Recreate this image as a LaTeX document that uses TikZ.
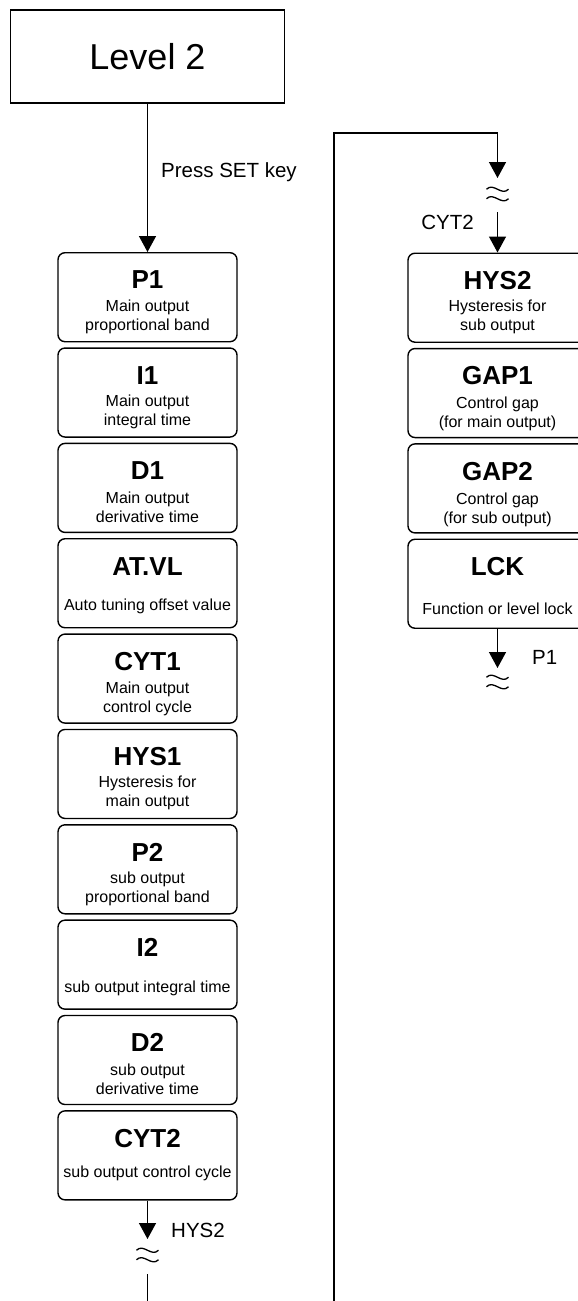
\documentclass[tikz,border=0pt]{standalone}
\usepackage{fontspec}
\setmainfont{Liberation Sans}
\usetikzlibrary{arrows.meta}
\newcommand\pbox[6]{%
  \node[box] (#1) at (#2,#3) {};
  \node[ttl] (#1t) at (#2,#3+28) {#4};
  \node[sub] (#1s) at (#2,#3+#5) {#6};}
\begin{document}
\begin{tikzpicture}[x=1pt,y=-1pt,
  box/.style={draw, line width=1.4pt, rounded corners=7pt, minimum width=179pt, minimum height=89pt, inner sep=0pt, anchor=north},
  ttl/.style={font=\fontsize{26}{30}\selectfont\bfseries, inner sep=0pt},
  sub/.style={font=\fontsize{16}{19}\selectfont, align=center, inner sep=0pt},
  lbl/.style={font=\fontsize{20.5}{24}\selectfont, inner sep=0pt},
  conn/.style={line width=1.4pt},
  arr/.style={conn, -{Triangle[width=17pt,length=16pt]}},
  brk/.pic={\draw[line width=1.3pt] (-11,-4.75) .. controls (-4,-12) and (4,2.5) .. (11,-4.75);
            \draw[line width=1.3pt] (-11,4.75) .. controls (-4,-2.5) and (4,12) .. (11,4.75);}
]
\fill[white] (0,0) rectangle (578,1301);
\useasboundingbox (0,0) rectangle (578,1301);

\node[draw, line width=1.4pt, minimum width=274pt, minimum height=93pt, inner sep=0pt,
      font=\fontsize{36}{40}\selectfont] (lvl) at (147.5,56.5) {Level 2};

% left column
\pbox{p1}{147.5}{252}{P1}{64.5}{Main output\\proportional band}
\pbox{i1}{147.5}{347.35}{I1}{64.5}{Main output\\integral time}
\pbox{d1}{147.5}{442.7}{D1}{64.5}{Main output\\derivative time}
\pbox{atvl}{147.5}{538.05}{AT.VL}{68}{Auto tuning offset value}
\pbox{cyt1}{147.5}{633.4}{CYT1}{65}{Main output\\control cycle}
\pbox{hys1}{147.5}{728.75}{HYS1}{64.5}{Hysteresis for\\main output}
\pbox{p2}{147.5}{824.1}{P2}{64.5}{sub output\\proportional band}
\pbox{i2}{147.5}{919.45}{I2}{69}{sub output integral time}
\pbox{d2}{147.5}{1014.8}{D2}{64}{sub output\\derivative time}
\pbox{cyt2}{147.5}{1110.15}{CYT2}{63.5}{sub output control cycle}

% right column
\pbox{hys2}{497.5}{252.5}{HYS2}{64}{Hysteresis for\\sub output}
\pbox{gap1}{497.5}{347.85}{GAP1}{66.5}{Control gap\\(for main output)}
\pbox{gap2}{497.5}{443.2}{GAP2}{67}{Control gap\\(for sub output)}
\pbox{lck}{497.5}{538.55}{LCK}{70}{Function or level lock}

% connectors
\draw[arr] (lvl.south) -- (p1.north);
\node[lbl, anchor=west] (lpress) at (161,172) {Press SET key};

\coordinate (a1) at (147.5,1239);
\draw[arr] (cyt2.south) -- (a1);
\pic at (147.5,1255) {brk};
\coordinate (b1) at (147.5,1274);
\coordinate (b2) at (147.5,1301);
\draw[conn] (b1) -- (b2);
\node[lbl, anchor=west] (lhys) at (171,1230) {HYS2};

\coordinate (r0) at (334,1301);
\coordinate (r1) at (334,133);
\coordinate (r2) at (497.5,133);
\coordinate (r3) at (497.5,178);
\draw[arr] (r0) -- (r1) -- (r2) -- (r3);
\pic at (497.5,194) {brk};
\coordinate (r4) at (497.5,212);
\draw[arr] (r4) -- (hys2.north);
\node[lbl, anchor=east] (lcyt) at (474,222) {CYT2};

\coordinate (r5) at (497.5,668);
\draw[arr] (lck.south) -- (r5);
\pic at (497.5,682) {brk};
\node[lbl, anchor=west] (lp1) at (532,657) {P1};
\end{tikzpicture}
\end{document}
